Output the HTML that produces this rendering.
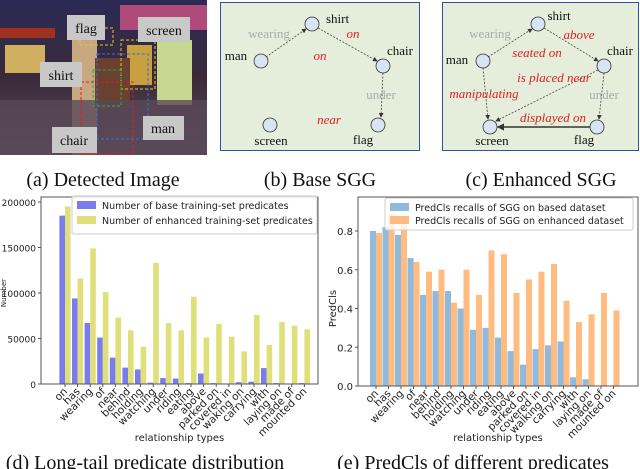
<!DOCTYPE html>
<html><head><meta charset="utf-8"><style>
html,body{margin:0;padding:0;background:#fff}
svg{display:block}
.ser{font-family:"Liberation Serif",serif}
.sans{font-family:"DejaVu Sans","Liberation Sans",sans-serif}
</style></head><body>
<svg id="fig" width="640" height="469" viewBox="0 0 640 469" xmlns="http://www.w3.org/2000/svg">
<defs>
<linearGradient id="bg" x1="0" y1="0" x2="0" y2="1"><stop offset="0" stop-color="#2a2a55"/><stop offset="0.5" stop-color="#3a2a3a"/><stop offset="1" stop-color="#5a4a5a"/></linearGradient>
<marker id="ar" markerWidth="6" markerHeight="6" refX="5" refY="3" orient="auto"><path d="M0,0 L6,3 L0,6 z" fill="#333"/></marker>
</defs>
<g>
<rect x="0" y="0" width="207" height="155" fill="url(#bg)"/>
<rect x="0" y="28" width="55" height="10" fill="#a03020"/>
<rect x="5" y="45" width="40" height="28" fill="#d0b060"/>
<rect x="120" y="5" width="87" height="25" fill="#b04a7a"/>
<rect x="157" y="40" width="35" height="65" fill="#c8d890"/>
<rect x="127" y="45" width="25" height="40" fill="#c8a040"/>
<rect x="72" y="40" width="25" height="115" fill="#c8a880"/>
<rect x="95" y="58" width="35" height="50" fill="#6a4030"/>
<rect x="0" y="100" width="207" height="55" fill="#5a4858" opacity="0.8"/>
<rect x="80" y="28" width="33" height="17" fill="none" stroke="#e8c820" stroke-dasharray="3,2"/>
<rect x="121" y="40" width="34" height="49" fill="none" stroke="#e8c820" stroke-dasharray="3,2"/>
<rect x="97" y="54" width="51" height="85" fill="none" stroke="#3a70d0" stroke-dasharray="3,2"/>
<rect x="93" y="70" width="28" height="36" fill="none" stroke="#20b040" stroke-dasharray="3,2"/>
<rect x="81" y="82" width="52" height="72" fill="none" stroke="#e02020" stroke-dasharray="3,2"/>
<g class="ser" font-size="14" fill="#111">
<rect x="67" y="15" width="38" height="25" fill="#c8c8c8"/><text x="86" y="33" text-anchor="middle">flag</text>
<rect x="138" y="17" width="52" height="25" fill="#c8c8c8"/><text x="164" y="35" text-anchor="middle">screen</text>
<rect x="40" y="62" width="42" height="25" fill="#c8c8c8"/><text x="61" y="80" text-anchor="middle">shirt</text>
<rect x="143" y="116" width="41" height="24" fill="#c8c8c8"/><text x="163" y="133" text-anchor="middle">man</text>
<rect x="52" y="127" width="45" height="26" fill="#c8c8c8"/><text x="74" y="145" text-anchor="middle">chair</text>
</g></g>

<g>
<rect x="220.5" y="2.5" width="199" height="148" fill="#e4eedb" stroke="#3050a0"/>
<g stroke="#444" stroke-width="0.8" stroke-dasharray="2,1.5" fill="none">
<line x1="266" y1="57" x2="306" y2="29" marker-end="url(#ar)"/>
<line x1="318" y1="28" x2="377" y2="61" marker-end="url(#ar)"/>
<line x1="383" y1="73" x2="381" y2="117" marker-end="url(#ar)"/>
</g>
<g fill="#d8e4f4" stroke="#333" stroke-width="0.8">
<circle cx="312" cy="24" r="7"/><circle cx="261" cy="61" r="7"/><circle cx="383" cy="66" r="7"/><circle cx="270" cy="125" r="7"/><circle cx="378" cy="125" r="7"/></g>
<g class="ser" font-size="13" fill="#111">
<text x="326" y="23">shirt</text><text x="236" y="60" text-anchor="middle">man</text><text x="400" y="55" text-anchor="middle">chair</text><text x="271" y="145" text-anchor="middle">screen</text><text x="363" y="144" text-anchor="middle">flag</text></g>
<g class="ser" font-size="13" font-style="italic" fill="#e02020">
<text x="269" y="38" text-anchor="middle" fill="#aaa" font-style="normal">wearing</text>
<text x="353" y="38" text-anchor="middle">on</text><text x="320" y="60" text-anchor="middle">on</text>
<text x="381" y="99" text-anchor="middle" fill="#aaa" font-style="normal">under</text>
<text x="329" y="124" text-anchor="middle">near</text></g>
</g>

<g>
<rect x="442.5" y="2.5" width="196" height="148" fill="#e4eedb" stroke="#3050a0"/>
<g stroke="#444" stroke-width="0.8" stroke-dasharray="2,1.5" fill="none">
<line x1="488" y1="57" x2="532" y2="29" marker-end="url(#ar)"/>
<line x1="544" y1="28" x2="598" y2="61" marker-end="url(#ar)"/>
<line x1="604" y1="73" x2="599" y2="119" marker-end="url(#ar)"/>
<line x1="483" y1="68" x2="488" y2="119" marker-end="url(#ar)"/>
<line x1="598" y1="70" x2="496" y2="121" marker-end="url(#ar)"/>
</g>
<line x1="590" y1="127" x2="498" y2="127" stroke="#111" stroke-width="1.2" marker-end="url(#ar)"/>
<g fill="#d8e4f4" stroke="#333" stroke-width="0.8">
<circle cx="538" cy="24" r="7"/><circle cx="483" cy="61" r="7"/><circle cx="604" cy="66" r="7"/><circle cx="490" cy="127" r="7"/><circle cx="597" cy="127" r="7"/></g>
<g class="ser" font-size="13" fill="#111">
<text x="559" y="20" text-anchor="middle">shirt</text><text x="457" y="64" text-anchor="middle">man</text><text x="620" y="55" text-anchor="middle">chair</text><text x="492" y="145" text-anchor="middle">screen</text><text x="584" y="144" text-anchor="middle">flag</text></g>
<g class="ser" font-size="13" font-style="italic" fill="#e02020">
<text x="490" y="38" text-anchor="middle" fill="#aaa" font-style="normal">wearing</text>
<text x="579" y="39" text-anchor="middle">above</text><text x="537" y="57" text-anchor="middle">seated on</text>
<text x="554" y="82" text-anchor="middle">is placed near</text><text x="484" y="98" text-anchor="middle">manipulating</text>
<text x="604" y="99" text-anchor="middle" fill="#aaa" font-style="normal">under</text>
<text x="553" y="122" text-anchor="middle">displayed on</text></g>
</g>

<g class="ser" font-size="20" fill="#111">
<text x="103" y="186" text-anchor="middle">(a) Detected Image</text>
<text x="320" y="186" text-anchor="middle">(b) Base SGG</text>
<text x="541" y="186" text-anchor="middle">(c) Enhanced SGG</text>
<text x="145" y="469" text-anchor="middle">(d) Long-tail predicate distribution</text>
<text x="473" y="469" text-anchor="middle">(e) PredCls of different predicates</text>
</g>
<g id="chartD"></g>
<g id="chartE"></g>
</svg>
<script>
const catsD = ["on","has","wearing","of","near","behind","holding","watching","under","riding","eating","above","parked on","covered in","waking on","carrying","with","laying on","made of","mounted on"];
const baseCounts = [185000,94000,67000,51000,29000,18000,16000,1500,6500,6000,1000,11500,1000,500,2000,2500,17500,1000,300,1000];
const enhCounts = [195000,116000,149000,101000,73000,59000,41000,133000,67000,59000,96000,51000,66000,52000,36000,76000,43000,68000,64000,60000];
const ticksD = [0,50000,100000,150000,200000];
const catsE = ["on","has","wearing","of","near","behind","holding","watching","under","riding","eating","above","parked on","covered in","walking on","carrying","with","laying on","made of","mounted on"];
const baseRecall = [0.80,0.82,0.78,0.66,0.47,0.49,0.49,0.40,0.29,0.30,0.25,0.18,0.11,0.19,0.21,0.23,0.045,0.035,0,0];
const enhRecall = [0.79,0.89,0.87,0.64,0.59,0.60,0.43,0.60,0.47,0.70,0.68,0.48,0.55,0.59,0.63,0.44,0.33,0.37,0.48,0.39];
const ticksE = [0,0.2,0.4,0.6,0.8];
const NS="http://www.w3.org/2000/svg";
function mk(p,t,a,txt){const e=document.createElementNS(NS,t);for(const k in a)e.setAttribute(k,a[k]);if(txt!==undefined)e.textContent=txt;p.appendChild(e);return e;}
function chart(g,o){
  const y=v=>o.y0-(v-0)/(o.ymax)*(o.y0-o.top);
  const x=i=>o.x0+o.step*i;
  const bw=o.bw;
  o.a.forEach((v,i)=>{const r=mk(g,'rect',{x:x(i)-bw,y:y(v),width:bw,height:o.y0-y(v),fill:o.ca});

});
  o.b.forEach((v,i)=>{const r=mk(g,'rect',{x:x(i),y:y(v),width:bw,height:o.y0-y(v),fill:o.cb});

});
  const fr=mk(g,'rect',{x:o.left,y:197,width:o.right-o.left,height:o.y0-197,fill:'none',stroke:'#555','stroke-width':1});
  
  
  o.ticks.forEach(t=>{mk(g,'line',{x1:o.left-3,x2:o.left,y1:y(t),y2:y(t),stroke:'#555'});
    const tx=mk(g,'text',{x:o.left-5,y:y(t)+4,'text-anchor':'end','font-size':o.tfs,class:'sans',fill:'#222'},o.fmt(t));
    
    });
  o.cats.forEach((c,i)=>{const cx=x(i);mk(g,'line',{x1:cx,x2:cx,y1:o.y0,y2:o.y0+3,stroke:'#555'});
    const t=mk(g,'text',{x:cx+3,y:o.y0+8,'text-anchor':'end','font-size':10.5,class:'sans',fill:'#222',transform:`rotate(-45 ${cx+3} ${o.y0+8})`},c);
    
    });
  const xl=mk(g,'text',{x:(o.left+o.right)/2,y:441,'text-anchor':'middle','font-size':10,class:'sans',fill:'#222'},'relationship types');
  
  
  const yl=mk(g,'text',{x:o.ylx,y:(o.top+o.y0)/2,'text-anchor':'middle','font-size':o.ylfs,class:'sans',fill:'#222',transform:`rotate(-90 ${o.ylx} ${(o.top+o.y0)/2})`},o.ylab);
  
  
  const lg=mk(g,'g',{});
  
  
  mk(lg,'rect',{x:o.lx,y:o.ly,width:o.lw,height:o.lh,fill:'#fff','fill-opacity':0.8,stroke:'#ccc',rx:2});
  [[o.ca,o.la],[o.cb,o.lb]].forEach((p,k)=>{
    mk(lg,'rect',{x:o.lx+5,y:o.ly+5+k*o.lstep,width:19,height:8,fill:p[0]});
    const t=mk(lg,'text',{x:o.lx+30,y:o.ly+13+k*o.lstep,'font-size':9.5,class:'sans',fill:'#222'},p[1]);
    
    
  });
}
chart(document.getElementById('chartD'),{cats:catsD,a:baseCounts,b:enhCounts,ticks:ticksD,ymax:200000,x0:65,step:12.6,bw:5.6,
 y0:384,top:202,left:41,right:318,ca:'#7b7bf0',cb:'#e0e07a',fmt:t=>String(t),tfs:9,ylab:'Number',ylx:6,ylfs:7,
 lx:72,ly:196,lw:245,lh:38,lstep:15,la:'Number of base training-set predicates',lb:'Number of enhanced training-set predicates'});
chart(document.getElementById('chartE'),{cats:catsE,a:baseRecall,b:enhRecall,ticks:ticksE,ymax:0.8,x0:376,step:12.5,bw:6,
 y0:386,top:231,left:358,right:638,ca:'#8fb9dd',cb:'#ffbb80',fmt:t=>t.toFixed(1),tfs:10,ylab:'PredCls',ylx:336,ylfs:10,
 lx:385,ly:198,lw:248,lh:32,lstep:13,la:'PredCls recalls of SGG on based dataset',lb:'PredCls recalls of SGG on enhanced dataset'});
</script>
</body></html>
